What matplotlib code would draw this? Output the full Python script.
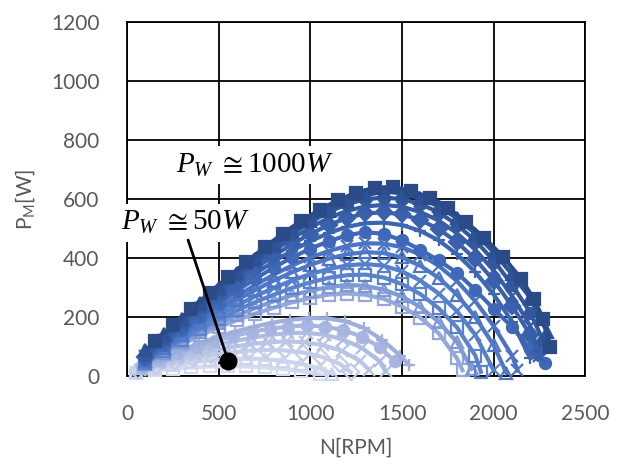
import matplotlib
matplotlib.use('Agg')
import matplotlib.pyplot as plt

# 측정 데이터: 회전수 N[RPM] 와 기계 출력 P_M[W] (P_W 50W ~ 1000W)
n_01 = [50, 150, 250, 350, 450, 550, 650, 750, 850, 950, 1050]
p_01 = [12, 20, 26, 30, 33, 34, 33, 30, 25, 17, 8]
n_02 = [50, 150, 250, 350, 450, 550, 650, 750, 850, 950, 1050, 1120]
p_02 = [15, 28, 38, 47, 54, 58, 60, 58, 52, 42, 26, 8]
n_03 = [60, 160, 260, 360, 460, 560, 660, 760, 860, 960, 1060, 1160, 1220]
p_03 = [18, 34, 48, 60, 71, 80, 86, 89, 87, 80, 66, 42, 14]
n_04 = [70, 170, 270, 370, 470, 570, 670, 770, 870, 970, 1070, 1170, 1270, 1320]
p_04 = [22, 40, 57, 73, 87, 99, 108, 115, 118, 115, 105, 86, 52, 22]
n_05 = [80, 180, 280, 380, 480, 580, 680, 780, 880, 980, 1080, 1180, 1280, 1380, 1410]
p_05 = [26, 48, 68, 87, 104, 118, 130, 140, 146, 147, 140, 124, 96, 50, 16]
n_06 = [80, 180, 280, 380, 480, 580, 680, 780, 880, 980, 1080, 1180, 1280, 1380, 1460]
p_06 = [28, 54, 78, 100, 119, 136, 150, 161, 168, 172, 168, 156, 134, 98, 50]
n_07 = [90, 190, 290, 390, 490, 590, 690, 790, 890, 990, 1090, 1190, 1290, 1390, 1490, 1540]
p_07 = [30, 58, 85, 110, 132, 151, 167, 181, 191, 197, 196, 186, 164, 124, 70, 37]
n_08 = [100, 200, 300, 400, 500, 600, 700, 800, 900, 1000, 1100, 1200, 1300, 1400, 1500, 1600, 1700, 1800, 1830]
p_08 = [40, 75, 108, 138, 165, 190, 212, 232, 250, 265, 276, 280, 276, 262, 236, 198, 145, 60, 20]
n_09 = [100, 200, 300, 400, 500, 600, 700, 800, 900, 1000, 1100, 1200, 1300, 1400, 1500, 1600, 1700, 1800, 1880]
p_09 = [42, 80, 116, 149, 179, 206, 231, 254, 274, 290, 302, 309, 306, 293, 270, 234, 184, 115, 25]
n_10 = [100, 200, 300, 400, 500, 600, 700, 800, 900, 1000, 1100, 1200, 1300, 1400, 1500, 1600, 1700, 1800, 1900, 1930]
p_10 = [45, 86, 124, 160, 193, 223, 251, 276, 299, 318, 333, 342, 344, 334, 312, 278, 230, 165, 70, 15]
n_11 = [100, 200, 300, 400, 500, 600, 700, 800, 900, 1000, 1100, 1200, 1300, 1400, 1500, 1600, 1700, 1800, 1900, 2000]
p_11 = [47, 91, 132, 171, 207, 240, 271, 299, 324, 346, 363, 375, 380, 374, 355, 324, 280, 220, 140, 20]
n_12 = [100, 200, 300, 400, 500, 600, 700, 800, 900, 1000, 1100, 1200, 1300, 1400, 1500, 1600, 1700, 1800, 1900, 2000, 2070]
p_12 = [50, 96, 140, 182, 221, 258, 292, 324, 352, 377, 398, 413, 420, 417, 402, 374, 333, 276, 200, 105, 10]
n_13 = [100, 200, 300, 400, 500, 600, 700, 800, 900, 1000, 1100, 1200, 1300, 1400, 1500, 1600, 1700, 1800, 1900, 2000, 2100, 2130]
p_13 = [52, 100, 146, 190, 232, 272, 309, 344, 375, 402, 424, 441, 450, 449, 437, 412, 374, 322, 254, 170, 70, 20]
n_14 = [100, 200, 300, 400, 500, 600, 700, 800, 900, 1000, 1100, 1200, 1300, 1400, 1500, 1600, 1700, 1800, 1900, 2000, 2100, 2200, 2280]
p_14 = [56, 106, 155, 202, 247, 290, 330, 368, 402, 432, 457, 477, 488, 482, 460, 428, 392, 350, 292, 228, 167, 92, 44]
n_15 = [100, 200, 300, 400, 500, 600, 700, 800, 900, 1000, 1100, 1200, 1300, 1400, 1500, 1600, 1700, 1800, 1900, 2000, 2100, 2200]
p_15 = [60, 112, 163, 212, 260, 305, 348, 388, 425, 457, 485, 506, 518, 520, 512, 492, 460, 413, 352, 277, 185, 60]
n_16 = [100, 200, 300, 400, 500, 600, 700, 800, 900, 1000, 1100, 1200, 1300, 1400, 1500, 1600, 1700, 1800, 1900, 2000, 2100, 2200, 2240]
p_16 = [64, 118, 171, 222, 272, 320, 365, 408, 447, 482, 512, 536, 551, 555, 548, 529, 498, 454, 396, 324, 238, 140, 80]
n_17 = [100, 200, 300, 400, 500, 600, 700, 800, 900, 1000, 1100, 1200, 1300, 1400, 1500, 1600, 1700, 1800, 1900, 2000, 2100, 2200, 2250]
p_17 = [68, 124, 178, 231, 283, 333, 380, 425, 467, 504, 536, 560, 575, 580, 574, 556, 527, 484, 428, 358, 272, 170, 70]
n_18 = [100, 200, 300, 400, 500, 600, 700, 800, 900, 1000, 1100, 1200, 1300, 1400, 1500, 1600, 1700, 1800, 1900, 2000, 2100, 2200, 2270]
p_18 = [72, 130, 185, 239, 292, 343, 392, 439, 483, 522, 556, 583, 599, 605, 600, 583, 555, 513, 459, 392, 310, 215, 120]
n_19 = [100, 200, 300, 400, 500, 600, 700, 800, 900, 1000, 1100, 1200, 1300, 1400, 1500, 1600, 1700, 1800, 1900, 2000, 2100, 2200, 2290]
p_19 = [88, 142, 195, 247, 298, 348, 396, 443, 487, 526, 561, 591, 613, 625, 620, 602, 575, 535, 483, 420, 345, 265, 150]
n_20 = [150, 250, 350, 450, 550, 650, 750, 850, 950, 1050, 1150, 1250, 1350, 1450, 1550, 1650, 1750, 1850, 1950, 2050, 2150, 2220, 2270, 2310]
p_20 = [118, 172, 228, 282, 335, 386, 436, 483, 526, 563, 596, 622, 638, 640, 628, 605, 570, 522, 468, 405, 330, 260, 195, 100]

series_n = [n_01, n_02, n_03, n_04, n_05, n_06, n_07, n_08, n_09, n_10,
            n_11, n_12, n_13, n_14, n_15, n_16, n_17, n_18, n_19, n_20]
series_p = [p_01, p_02, p_03, p_04, p_05, p_06, p_07, p_08, p_09, p_10,
            p_11, p_12, p_13, p_14, p_15, p_16, p_17, p_18, p_19, p_20]

# 스타일 (색상 / 마커 / 채움)
colors = ['#d6dcef', '#cdd4ec', '#c3cce8', '#bac5e6', '#b0bde3', '#a7b5e0', '#9eaedd',
          '#94a8dc', '#7f98d6', '#5a83cc', '#5580cb', '#4e77c8', '#4a73c4', '#3f69b8',
          '#3d66b2', '#3a62ac', '#365da5', '#32589e', '#2e5296', '#2b4b88']
markers = ['s', '^', 'D', 'x', 'x', 'o', '+', 's', '^', 's',
           'x', '^', 'x', 'o', '+', 'D', 'x', 'o', '^', 's']
filled = [False, False, False, True, True, True, True, False, False, False,
          True, False, True, True, True, True, True, True, True, True]

plt.rcParams['font.family'] = ['Lato', 'DejaVu Sans']
plt.rcParams['mathtext.fontset'] = 'custom'
plt.rcParams['mathtext.rm'] = 'Liberation Serif'
plt.rcParams['mathtext.it'] = 'Liberation Serif:italic'

fig = plt.figure(figsize=(6.26, 4.65), dpi=100)
ax = fig.add_axes([0.203, 0.191, 0.732, 0.762])

for i, (n, p) in enumerate(zip(series_n, series_p)):
    c = colors[i]
    ax.plot(n, p, color=c, linewidth=3, marker=markers[i], markersize=8,
            markerfacecolor=c if filled[i] else 'white',
            markeredgecolor=c, markeredgewidth=1.6,
            fillstyle='full' if filled[i] else 'none',
            clip_on=False, zorder=3 + i * 0.01)

ax.set_xlim(0, 2500)
ax.set_ylim(0, 1200)
ax.set_xticks(range(0, 2501, 500))
ax.set_yticks(range(0, 1201, 200))
ax.grid(True, color='black', linewidth=1.3)
ax.set_axisbelow(True)
for s in ax.spines.values():
    s.set_color('black')
    s.set_linewidth(1.3)
    s.set_zorder(1)
ax.tick_params(length=0, pad=20, labelsize=15, labelcolor='#595959')

ax.set_xlabel('N[RPM]', fontsize=15, color='#595959', labelpad=10)
ax.set_ylabel('P$_\\mathregular{M}$[W]', fontsize=15, color='#595959', labelpad=10)

box = dict(facecolor='white', edgecolor='none', pad=4)
ax.text(695, 715, r'$P_W\ \cong 1000W$', fontsize=21, ha='center', va='center',
        bbox=box, zorder=2)
ax.text(315, 520, r'$P_W\ \cong 50W$', fontsize=21, ha='center', va='center',
        bbox=box, zorder=2)

ax.annotate('', xy=(552, 51), xytext=(333, 461),
            arrowprops=dict(arrowstyle='-', color='black', lw=2, shrinkA=0, shrinkB=0),
            zorder=6)
ax.plot([552], [51], 'o', color='black', markersize=12, zorder=7)

plt.savefig('out.png', dpi=100)
